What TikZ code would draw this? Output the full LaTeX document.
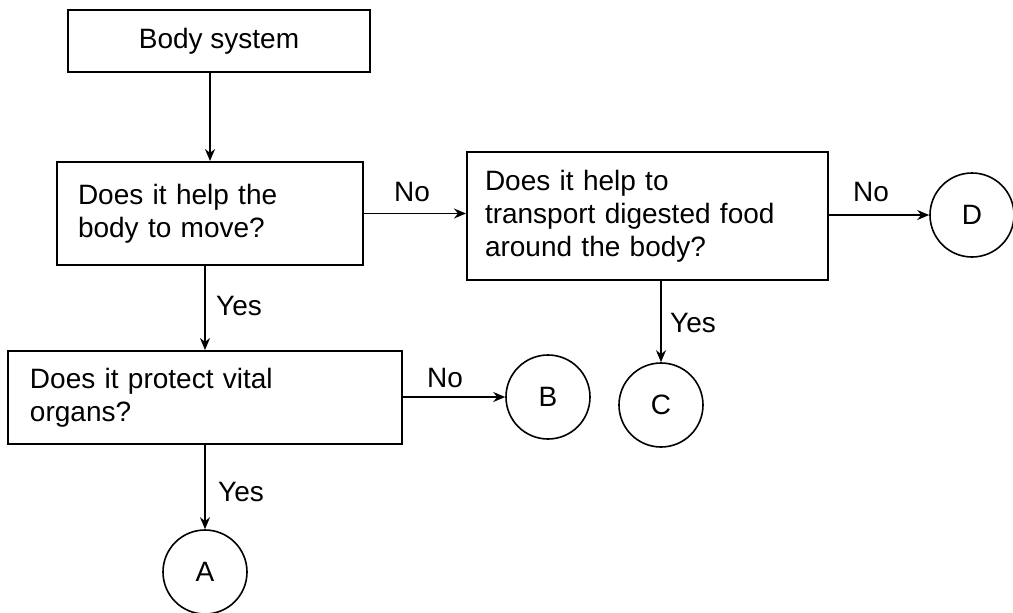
\documentclass[tikz,border=0pt]{standalone}
\usepackage{fontspec}
\setmainfont{Liberation Sans}
\usetikzlibrary{arrows.meta,positioning}
\begin{document}
\begin{tikzpicture}[x=1pt,y=-1pt,
  every node/.style={font=\fontsize{28}{33}\selectfont},
  box/.style={draw,line width=2pt,rectangle,inner sep=0pt,align=left},
  endpt/.style={draw,circle,line width=1.6pt,minimum size=84pt,inner sep=0pt},
  arr/.style={line width=1.8pt,-{Stealth[length=12pt,width=10pt]}},
  lbl/.style={inner sep=0pt}]
\useasboundingbox (0,0) rectangle (1013,613);
\node[box,align=center,minimum width=302pt,minimum height=62pt] (body) at (219,41) {Body system};
\node[box,minimum width=306pt,minimum height=103pt,text width=264pt] (b2) at (210,213.5) {Does it help the\\body to move?};
\node[box,minimum width=361pt,minimum height=128pt,text width=325pt] (b3) at (647.5,216) {Does it help to\\transport digested food\\around the body?};
\node[box,minimum width=394pt,minimum height=93pt,text width=350pt] (b4) at (205,397.5) {Does it protect vital\\organs?};
\node[endpt] (A) at (205,572) {A};
\node[endpt] (B) at (548,397) {B};
\node[endpt] (C) at (661,405) {C};
\node[endpt] (D) at (972,215) {D};
\draw[arr] (body.south -| b2.north) -- (b2.north);
\draw[arr] (b2.east) -- (b2.east -| b3.west);
\draw[arr] (b3.east |- D.west) -- (D.west);
\draw[arr] (b2.south -| b4.north) -- (b4.north);
\draw[arr] (b4.east |- B.west) -- (B.west);
\draw[arr] (C.north |- b3.south) -- (C.north);
\draw[arr] (b4.south) -- (A.north);
\node[lbl] (l1) at (412,192) {No};
\node[lbl] (l2) at (871,192) {No};
\node[lbl] (l3) at (239,306) {Yes};
\node[lbl] (l4) at (693,323) {Yes};
\node[lbl] (l5) at (445,378) {No};
\node[lbl] (l6) at (241,492) {Yes};
\end{tikzpicture}
\end{document}
